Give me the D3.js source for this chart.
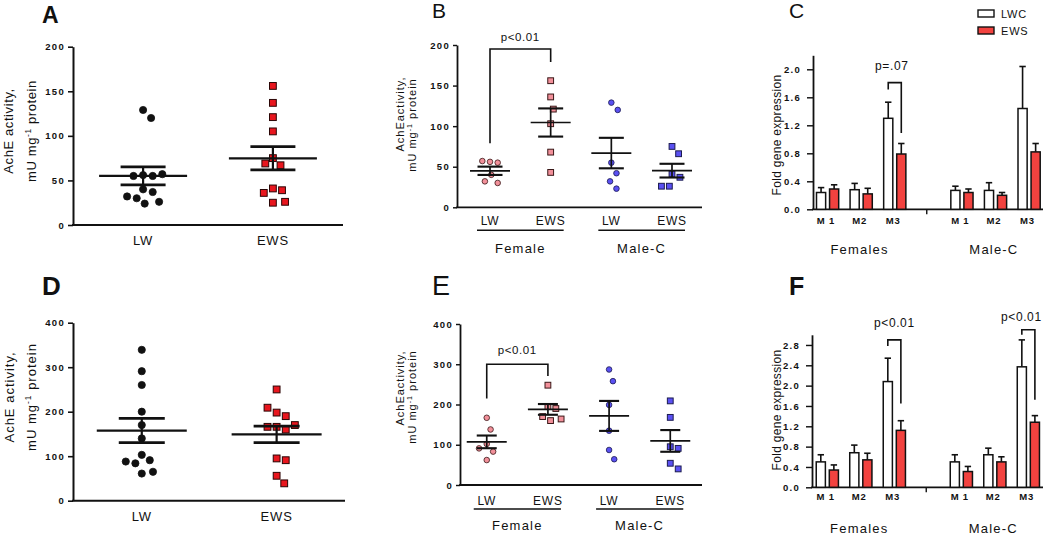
<!DOCTYPE html>
<html>
<head>
<meta charset="utf-8">
<script src="https://cdn.jsdelivr.net/npm/d3@7"></script>
<style>
  body { margin: 0; background: #fff; }
</style>
</head>
<body>
<svg id="fig" width="1050" height="538"></svg>
<script>
// ---- data ----

// A / D: AchE activity, all animals
const groupsAD = ["LW", "EWS"];
const aLW  = [129, 120, 56, 55, 55, 57, 40, 37, 30, 32, 24, 26];
const aEWS = [156, 137, 121, 105, 75, 67, 69, 41, 39, 36, 25, 26];
const dLW  = [339, 291, 260, 200, 170, 140, 103, 91, 84, 88, 61, 65];
const dEWS = [250, 198, 190, 209, 166, 160, 166, 170, 95, 91, 56, 39];

// B / E: split by sex
const groupsBE = ["F-LW", "F-EWS", "M-LW", "M-EWS"];
const labelsBE = ["LW", "EWS", "LW", "EWS"];
const sexBE = ["Female", "Male-C"];
const bFLW  = [56, 55, 57, 40, 32, 30];
const bFEWS = [156, 136, 121, 103, 68, 43];
const bMLW  = [129, 120, 55, 42, 32, 23];
const bMEWS = [75, 66, 41, 37, 26, 26];
const eFLW  = [167, 138, 102, 83, 91, 62];
const eFEWS = [248, 195, 190, 170, 160, 164];
const eMLW  = [287, 258, 199, 135, 87, 64];
const eMEWS = [209, 168, 95, 91, 54, 40];

// C / F: fold gene expression (mean, SEM)
const markers = ["F-M1", "F-M2", "F-M3", "M-M1", "M-M2", "M-M3"];
const markerLabels = ["M 1", "M2", "M3", "M 1", "M2", "M3"];
const sexCF = ["Females", "Male-C"];
const seriesCF = ["LWC", "EWS"];
const cLWC    = [0.24, 0.28, 1.30, 0.27, 0.27, 1.44];
const cLWCse  = [0.07, 0.09, 0.23, 0.06, 0.11, 0.60];
const cEWS    = [0.29, 0.22, 0.79, 0.24, 0.20, 0.82];
const cEWSse  = [0.06, 0.08, 0.15, 0.05, 0.04, 0.12];
const fLWC    = [0.50, 0.68, 2.08, 0.50, 0.64, 2.37];
const fLWCse  = [0.14, 0.15, 0.46, 0.14, 0.13, 0.53];
const fEWS    = [0.34, 0.54, 1.12, 0.31, 0.50, 1.28];
const fEWSse  = [0.10, 0.13, 0.19, 0.10, 0.10, 0.13];

const ticks200 = [0, 50, 100, 150, 200];
const ticks400 = [0, 100, 200, 300, 400];
const ticksC = [0, 0.4, 0.8, 1.2, 1.6, 2.0];
const ticksF = [0, 0.4, 0.8, 1.2, 1.6, 2.0, 2.4, 2.8];

// ---- drawing ----
const FONT = "Arial, 'Liberation Sans', sans-serif";
const ink = "#111";
const svg = d3.select("#fig");
svg.append("rect").attr("width", 1050).attr("height", 538).attr("fill", "#fff");

const styleBlackDot = { shape: "circle", r: 4, fill: "#111", stroke: "#111" };
const styleRedSq    = { shape: "square", r: 3.8, fill: "#e8161e", stroke: "#2a0505" };
const stylePinkDot  = { shape: "circle", r: 3.2, fill: "#f2909a", stroke: "#3a1818" };
const stylePinkSq   = { shape: "square", r: 3.3, fill: "#f2909a", stroke: "#3a1818" };
const styleBlueDot  = { shape: "circle", r: 3.2, fill: "#5a50f2", stroke: "#1c1c50" };
const styleBlueSq   = { shape: "square", r: 3.3, fill: "#5a50f2", stroke: "#1c1c50" };

function txt(g, x, y, s, size, opts = {}) {
  return g.append("text").attr("x", x).attr("y", y)
    .attr("font-family", FONT).attr("font-size", size)
    .attr("font-weight", opts.bold ? "bold" : "normal")
    .attr("letter-spacing", opts.ls || 0)
    .attr("text-anchor", opts.anchor || "middle")
    .attr("fill", ink).text(s);
}

function panelLetter(s, x, y, size, bold) {
  txt(svg, x, y, s, size, { bold, anchor: "start" });
}

// rotated y title; lines = [{text, sup, after, x, cy}]
function yTitle(lines, size, ls) {
  lines.forEach(l => {
    const t = svg.append("text")
      .attr("transform", `translate(${l.x},${l.cy}) rotate(-90)`)
      .attr("font-family", FONT).attr("font-size", size)
      .attr("letter-spacing", ls).attr("text-anchor", "middle").attr("fill", ink);
    t.append("tspan").text(l.text);
    if (l.sup) {
      t.append("tspan").attr("dy", -size * 0.4).attr("font-size", size * 0.65).text(l.sup);
      t.append("tspan").attr("dy", size * 0.4).text(l.after);
    }
  });
}

function yAxis(y, L, ticks, fmt) {
  const ax = svg.append("g").attr("transform", `translate(${L.x0},0)`)
    .call(d3.axisLeft(y).tickValues(ticks).tickFormat(fmt)
      .tickSizeInner(L.tick).tickSizeOuter(0).tickPadding(L.pad));
  ax.attr("font-family", FONT).attr("font-size", 9.5);
  ax.select(".domain").attr("stroke", ink).attr("stroke-width", L.aw);
  ax.selectAll(".tick line").attr("stroke", ink).attr("stroke-width", L.aw * 0.8);
  ax.selectAll(".tick text").attr("fill", ink).attr("font-weight", "bold")
    .attr("letter-spacing", 1.3);
  svg.append("line").attr("x1", L.x0 - L.aw / 2).attr("x2", L.x1)
    .attr("y1", L.y0).attr("y2", L.y0).attr("stroke", ink).attr("stroke-width", L.aw);
}

// simple beeswarm: nearest free horizontal offset, elliptical keep-out zone
function swarm(vals, y, r, rowH) {
  const placed = [];
  const w = 2 * r + 0.8;
  return vals.map(v => {
    const py = y(v);
    let dx = 0;
    for (let k = 0; k < 80; k++) {
      const off = (k % 2 ? 1 : -1) * Math.ceil(k / 2) * r * 0.4;
      const free = placed.every(p => {
        const a = (p.dx - off) / w, b = (p.py - py) / rowH;
        return a * a + b * b >= 1;
      });
      if (free) { dx = off; break; }
    }
    placed.push({ dx, py });
    return { v, dx, py };
  });
}

function bracket(x1, x2, yTop, yL, yR, label, lift, size, tdx = 0) {
  svg.append("path")
    .attr("d", `M${x1},${yL}V${yTop}H${x2}V${yR}`)
    .attr("fill", "none").attr("stroke", ink).attr("stroke-width", 1.6);
  txt(svg, (x1 + x2) / 2 + tdx, yTop - lift, label, size, { ls: 0.6 });
}

function scatterPanel(L, keys, labels, series, styles, ticks) {
  const y = d3.scaleLinear().domain(L.domain).range([L.y0, L.yTop]);
  const x = d3.scalePoint().domain(keys).range(L.xr).padding(L.xpad);
  yAxis(y, L, ticks, d3.format("d"));

  series.forEach((vals, i) => {
    const cx = x(keys[i]), st = styles[i];
    const pts = swarm(vals, y, st.r, L.rowH);
    const g = svg.append("g");
    if (st.shape === "circle") {
      g.selectAll("circle").data(pts).join("circle")
        .attr("cx", d => cx + d.dx).attr("cy", d => d.py).attr("r", st.r - 0.4)
        .attr("fill", st.fill).attr("stroke", st.stroke).attr("stroke-width", 0.8);
    } else {
      g.selectAll("rect").data(pts).join("rect")
        .attr("x", d => cx + d.dx - st.r + 0.4).attr("y", d => d.py - st.r + 0.4)
        .attr("width", 2 * st.r - 0.8).attr("height", 2 * st.r - 0.8)
        .attr("fill", st.fill).attr("stroke", st.stroke).attr("stroke-width", 1);
    }
    const m = d3.mean(vals);
    const se = d3.deviation(vals) / Math.sqrt(vals.length);
    const e = svg.append("g").attr("stroke", ink);
    e.append("line").attr("x1", cx - L.meanW).attr("x2", cx + L.meanW)
      .attr("y1", y(m)).attr("y2", y(m)).attr("stroke-width", L.lw);
    e.append("line").attr("x1", cx).attr("x2", cx)
      .attr("y1", y(m - se)).attr("y2", y(m + se)).attr("stroke-width", L.lw);
    [m - se, m + se].forEach(v => e.append("line")
      .attr("x1", cx - L.capW).attr("x2", cx + L.capW)
      .attr("y1", y(v)).attr("y2", y(v)).attr("stroke-width", L.lw * 1.25));
  });

  keys.forEach((k, i) => txt(svg, x(k), L.y0 + L.labDy, labels[i], L.labSize, { ls: 0.8 }));
  return { x, y };
}

function sexUnderline(x, L, keys, names) {
  names.forEach((n, i) => {
    const a = x(keys[i * 2]), b = x(keys[i * 2 + 1]);
    svg.append("line").attr("x1", a - 13).attr("x2", b + 13)
      .attr("y1", L.y0 + L.ulDy).attr("y2", L.y0 + L.ulDy)
      .attr("stroke", ink).attr("stroke-width", 1.4);
    txt(svg, (a + b) / 2, L.y0 + L.sexDy, n, 13, { ls: 1.2 });
  });
}

function barPanel(L, lwc, lwcSe, ews, ewsSe, ticks) {
  const y = d3.scaleLinear().domain(L.domain).range([L.y0, L.yTop]);
  const slots = [...markers.slice(0, 3), "sep", ...markers.slice(3)];
  const x = d3.scalePoint().domain(slots).range(L.xr).padding(L.xpad);
  const inner = d3.scaleBand().domain(seriesCF).range([-9.5, 12.7]).paddingInner(0.3);
  yAxis(y, L, ticks, d3.format(".1f"));

  const cols = { LWC: "#fff", EWS: "#f2423f" };
  [[lwc, lwcSe, "LWC"], [ews, ewsSe, "EWS"]].forEach(([vals, ses, s]) => {
    const g = svg.append("g");
    markers.forEach((mk, i) => {
      const x0 = x(mk) + inner(s), w = inner.bandwidth(), xc = x0 + w / 2;
      g.append("line").attr("x1", xc).attr("x2", xc)
        .attr("y1", y(vals[i])).attr("y2", y(vals[i] + ses[i]))
        .attr("stroke", ink).attr("stroke-width", 1.6);
      g.append("line").attr("x1", xc - 3.2).attr("x2", xc + 3.2)
        .attr("y1", y(vals[i] + ses[i])).attr("y2", y(vals[i] + ses[i]))
        .attr("stroke", ink).attr("stroke-width", 1.6);
      g.append("rect").attr("x", x0).attr("y", y(vals[i]))
        .attr("width", w).attr("height", L.y0 - y(vals[i]))
        .attr("fill", cols[s]).attr("stroke", ink).attr("stroke-width", 1.5);
    });
  });

  // separator tick between the two sexes
  svg.append("line").attr("x1", x("sep")).attr("x2", x("sep"))
    .attr("y1", L.y0).attr("y2", L.y0 + 5).attr("stroke", ink).attr("stroke-width", 1.4);

  markers.forEach((mk, i) => txt(svg, x(mk), L.y0 + L.labDy, markerLabels[i], 9.5, { bold: true, ls: 0.8 }));
  sexCF.forEach((n, i) => {
    const a = x(markers[i * 3]), b = x(markers[i * 3 + 2]);
    txt(svg, (a + b) / 2, L.y0 + L.sexDy, n, 13, { ls: 1.2 });
  });

  const barCenter = (mk, s) => x(mk) + inner(s) + inner.bandwidth() / 2;
  return { y, barCenter };
}

// ---- panel A ----
const LA = { x0: 73, x1: 343, y0: 225, yTop: 46.7, domain: [0, 200], xr: [73, 343], xpad: 0.54,
  tick: 5, pad: 3, aw: 2, meanW: 44, capW: 22.5, lw: 2.2, labDy: 20, labSize: 13, rowH: 12 };
scatterPanel(LA, groupsAD, groupsAD, [aLW, aEWS], [styleBlackDot, styleRedSq], ticks200);
panelLetter("A", 42, 23, 23, true);
yTitle([{ text: "AchE activity,", x: 12.5, cy: 131 },
        { text: "mU mg", sup: "-1", after: " protein", x: 36, cy: 131 }], 13, 0.6);

// ---- panel D ----
const LD = { x0: 73, x1: 345, y0: 500.7, yTop: 322.7, domain: [0, 400], xr: [73, 345.4], xpad: 0.51,
  tick: 5, pad: 3, aw: 2, meanW: 45, capW: 23, lw: 2.2, labDy: 20, labSize: 13, rowH: 12 };
scatterPanel(LD, groupsAD, groupsAD, [dLW, dEWS], [styleBlackDot, styleRedSq], ticks400);
panelLetter("D", 42, 295, 26, true);
yTitle([{ text: "AchE activity,", x: 14, cy: 397 },
        { text: "mU mg", sup: "-1", after: " protein", x: 36, cy: 397 }], 13, 1);

// ---- panel B ----
const LB = { x0: 457, x1: 702, y0: 207.3, yTop: 45, domain: [0, 200], xr: [457, 705], xpad: 0.544,
  tick: 4, pad: 3, aw: 1.8, meanW: 20, capW: 12.5, lw: 1.7, labDy: 18, labSize: 12, ulDy: 23, sexDy: 46, rowH: 13 };
const pb = scatterPanel(LB, groupsBE, labelsBE, [bFLW, bFEWS, bMLW, bMEWS],
  [stylePinkDot, stylePinkSq, styleBlueDot, styleBlueSq], ticks200);
sexUnderline(pb.x, LB, groupsBE, sexBE);
bracket(pb.x("F-LW"), pb.x("F-EWS"), pb.y(195), pb.y(79), pb.y(179), "p<0.01", 8, 11.5);
panelLetter("B", 432, 18, 21, false);
yTitle([{ text: "AchEactivity,", x: 404, cy: 114 },
        { text: "mU mg", sup: "-1", after: " protein", x: 416, cy: 125 }], 11, 1);

// ---- panel E ----
const LE = { x0: 460, x1: 702, y0: 485, yTop: 324, domain: [0, 400], xr: [460, 697], xpad: 0.437,
  tick: 4, pad: 3, aw: 1.8, meanW: 20, capW: 10, lw: 1.7, labDy: 20, labSize: 12, ulDy: 24, sexDy: 45, rowH: 13 };
const pe = scatterPanel(LE, groupsBE, labelsBE, [eFLW, eFEWS, eMLW, eMEWS],
  [stylePinkDot, stylePinkSq, styleBlueDot, styleBlueSq], ticks400);
sexUnderline(pe.x, LE, groupsBE, sexBE);
bracket(pe.x("F-LW"), pe.x("F-EWS"), pe.y(300), pe.y(215), pe.y(271), "p<0.01", 10, 11.5);
panelLetter("E", 432, 295, 27, false);
yTitle([{ text: "AchEactivity,", x: 404, cy: 388 },
        { text: "mU mg", sup: "-1", after: " protein", x: 416, cy: 397 }], 11, 1);

// ---- panel C ----
const LC = { x0: 813, x1: 1043, y0: 209.3, yTop: 55.3, domain: [0, 2.2], xr: [813, 1040.5], xpad: 0.387,
  tick: 6, pad: 6, aw: 1.8, labDy: 15, sexDy: 45 };
const pc = barPanel(LC, cLWC, cLWCse, cEWS, cEWSse, ticksC);
bracket(pc.barCenter("F-M3", "LWC"), pc.barCenter("F-M3", "EWS"),
  pc.y(1.81), pc.y(1.71), pc.y(1.09), "p=.07", 13, 12, -3);
panelLetter("C", 789, 18, 21, false);
yTitle([{ text: "Fold gene expression", x: 781, cy: 135 }], 12, 0.3);

// legend
seriesCF.forEach((s, i) => {
  svg.append("rect").attr("x", 978).attr("y", 10 + i * 17).attr("width", 16).attr("height", 7)
    .attr("fill", s === "LWC" ? "#fff" : "#f2423f").attr("stroke", ink).attr("stroke-width", 1.4);
  txt(svg, 1001, 17.5 + i * 17, s, 11, { anchor: "start", ls: 0.8 });
});

// ---- panel F ----
const LF = { x0: 812, x1: 1043, y0: 487.3, yTop: 334.8, domain: [0, 3], xr: [812, 1040.5], xpad: 0.41,
  tick: 6, pad: 6, aw: 1.8, labDy: 13, sexDy: 46 };
const pf = barPanel(LF, fLWC, fLWCse, fEWS, fEWSse, ticksF);
bracket(pf.barCenter("F-M3", "LWC"), pf.barCenter("F-M3", "EWS"),
  pf.y(2.90), pf.y(2.78), pf.y(1.65), "p<0.01", 13, 12);
bracket(pf.barCenter("M-M3", "LWC"), pf.barCenter("M-M3", "EWS"),
  pf.y(3.10), pf.y(3.0), pf.y(1.72), "p<0.01", 9, 12, -7);
panelLetter("F", 789, 295, 25, true);
yTitle([{ text: "Fold gene expression", x: 781, cy: 410 }], 12, 0.3);
</script>
</body>
</html>
